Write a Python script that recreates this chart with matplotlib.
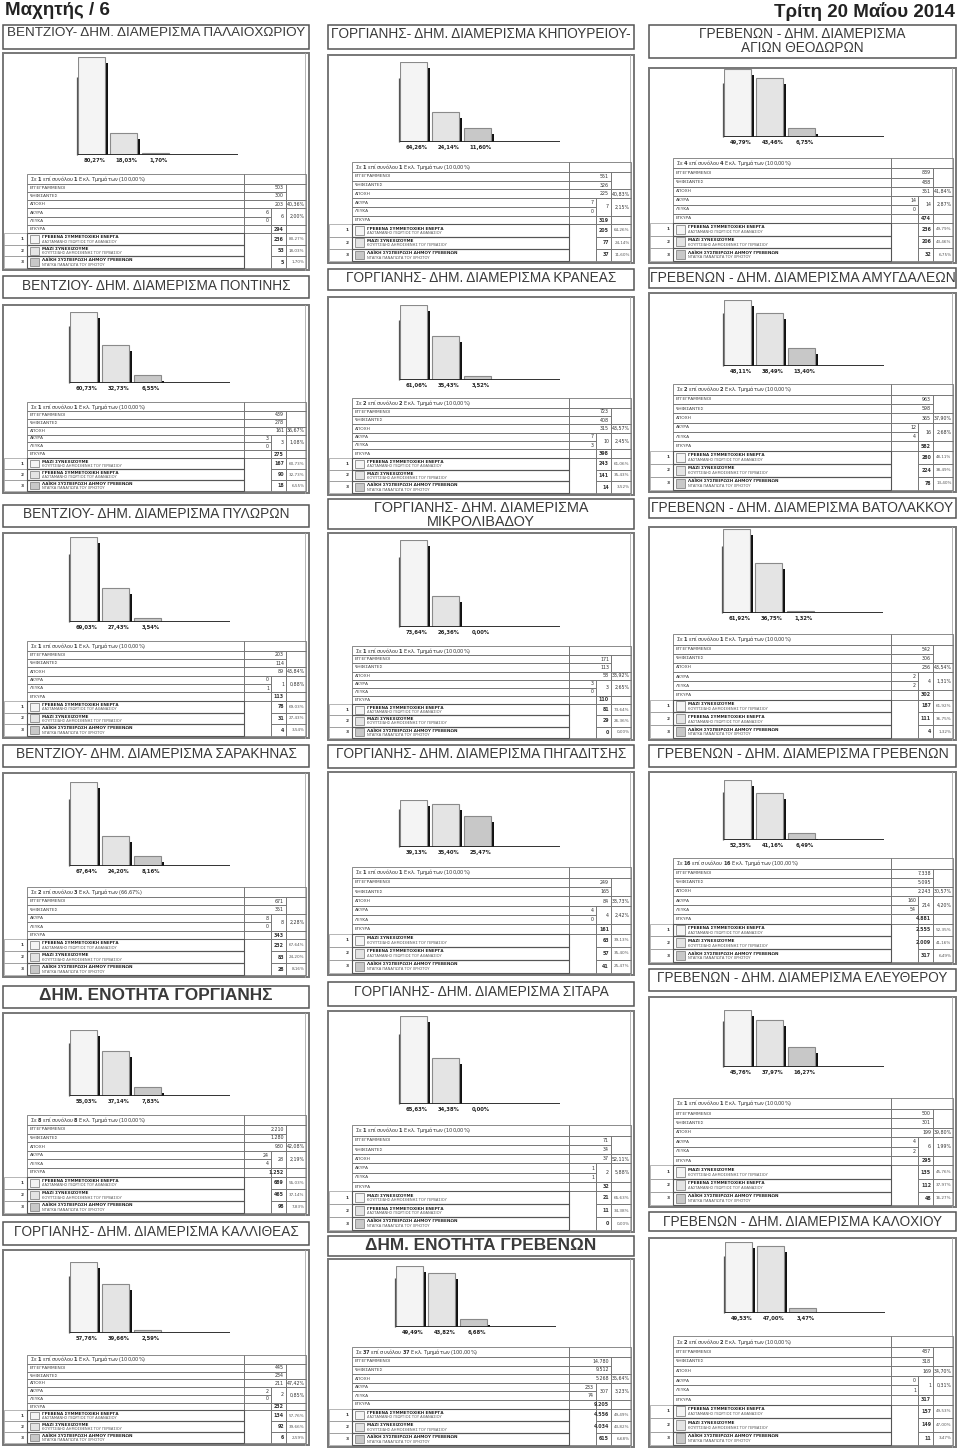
import numpy as np
import matplotlib.pyplot as plt
from matplotlib.patches import Rectangle
from matplotlib import font_manager

# --- data: local election results (Grevena, 18 May 2014), one entry per panel ---
titles = [
    "ΒΕΝΤΖΙΟΥ- ΔΗΜ. ΔΙΑΜΕΡΙΣΜΑ ΠΑΛΑΙΟΧΩΡΙΟΥ",
    "ΒΕΝΤΖΙΟΥ- ΔΗΜ. ΔΙΑΜΕΡΙΣΜΑ ΠΟΝΤΙΝΗΣ",
    "ΒΕΝΤΖΙΟΥ- ΔΗΜ. ΔΙΑΜΕΡΙΣΜΑ ΠΥΛΩΡΩΝ",
    "ΒΕΝΤΖΙΟΥ- ΔΗΜ. ΔΙΑΜΕΡΙΣΜΑ ΣΑΡΑΚΗΝΑΣ",
    "ΔΗΜ. ΕΝΟΤΗΤΑ ΓΟΡΓΙΑΝΗΣ",
    "ΓΟΡΓΙΑΝΗΣ- ΔΗΜ. ΔΙΑΜΕΡΙΣΜΑ ΚΑΛΛΙΘΕΑΣ",
    "ΓΟΡΓΙΑΝΗΣ- ΔΗΜ. ΔΙΑΜΕΡΙΣΜΑ ΚΗΠΟΥΡΕΙΟΥ-",
    "ΓΟΡΓΙΑΝΗΣ- ΔΗΜ. ΔΙΑΜΕΡΙΣΜΑ ΚΡΑΝΕΑΣ",
    "ΓΟΡΓΙΑΝΗΣ- ΔΗΜ. ΔΙΑΜΕΡΙΣΜΑ\nΜΙΚΡΟΛΙΒΑΔΟΥ",
    "ΓΟΡΓΙΑΝΗΣ- ΔΗΜ. ΔΙΑΜΕΡΙΣΜΑ ΠΗΓΑΔΙΤΣΗΣ",
    "ΓΟΡΓΙΑΝΗΣ- ΔΗΜ. ΔΙΑΜΕΡΙΣΜΑ ΣΙΤΑΡΑ",
    "ΔΗΜ. ΕΝΟΤΗΤΑ ΓΡΕΒΕΝΩΝ",
    "ΓΡΕΒΕΝΩΝ - ΔΗΜ. ΔΙΑΜΕΡΙΣΜΑ\nΑΓΙΩΝ ΘΕΟΔΩΡΩΝ",
    "ΓΡΕΒΕΝΩΝ - ΔΗΜ. ΔΙΑΜΕΡΙΣΜΑ ΑΜΥΓΔΑΛΕΩΝ",
    "ΓΡΕΒΕΝΩΝ - ΔΗΜ. ΔΙΑΜΕΡΙΣΜΑ ΒΑΤΟΛΑΚΚΟΥ",
    "ΓΡΕΒΕΝΩΝ - ΔΗΜ. ΔΙΑΜΕΡΙΣΜΑ ΓΡΕΒΕΝΩΝ",
    "ΓΡΕΒΕΝΩΝ - ΔΗΜ. ΔΙΑΜΕΡΙΣΜΑ ΕΛΕΥΘΕΡΟΥ",
    "ΓΡΕΒΕΝΩΝ - ΔΗΜ. ΔΙΑΜΕΡΙΣΜΑ ΚΑΛΟΧΙΟΥ",
]
tm_done = [1, 1, 1, 2, 8, 1, 1, 2, 1, 1, 1, 37, 4, 2, 1, 16, 1, 2]
tm_total = [1, 1, 1, 3, 8, 1, 1, 2, 1, 1, 1, 37, 4, 2, 1, 16, 1, 2]
tm_pct = [100.0, 100.0, 100.0, 66.67, 100.0, 100.0, 100.0, 100.0, 100.0,
          100.0, 100.0, 100.0, 100.0, 100.0, 100.0, 100.0, 100.0, 100.0]
eggegrammenoi = [503, 439, 203, 671, 2210, 445, 551, 723, 171, 249, 71, 14780,
                 839, 963, 542, 7338, 500, 487]
psifisantes = [300, 278, 114, 351, 1280, 234, 326, 408, 113, 165, 34, 9512,
               488, 598, 306, 5095, 301, 318]
apoxi = [203, 161, 89, None, 930, 211, 225, 315, 58, 84, 37, 5268,
         351, 365, 236, 2243, 199, 169]
apoxi_pct = [40.36, 36.67, 43.84, None, 42.08, 47.42, 40.83, 43.57, 33.92, 33.73, 52.11, 35.64,
             41.84, 37.90, 43.54, 30.57, 39.80, 34.70]
akyra = [6, 3, 0, 8, 24, 2, 7, 7, 3, 4, 1, 233, 14, 12, 2, 160, 4, 0]
leyka = [0, 0, 1, 0, 4, 0, 0, 3, 0, 0, 1, 74, 0, 4, 2, 54, 2, 1]
akyra_leyka_pct = [2.00, 1.08, 0.88, 2.28, 2.19, 0.85, 2.15, 2.45, 2.65, 2.42, 5.88, 3.23,
                   2.87, 2.68, 1.31, 4.20, 1.99, 0.31]
egkyra = [294, 275, 113, 343, 1252, 232, 319, 398, 110, 161, 32, 9205,
          474, 582, 302, 4881, 295, 317]

parties = {
    'G': ("ΓΡΕΒΕΝΑ ΣΥΜΜΕΤΟΧΙΚΗ ΕΝΕΡΓΑ", "ΔΑΣΤΑΜΑΝΗΣ ΓΕΩΡΓΙΟΣ ΤΟΥ ΑΘΑΝΑΣΙΟΥ"),
    'M': ("ΜΑΖΙ ΣΥΝΕΧΙΖΟΥΜΕ", "ΚΟΥΠΤΣΙΔΗΣ ΔΗΜΟΣΘΕΝΗΣ ΤΟΥ ΓΕΡΒΑΣΙΟΥ"),
    'L': ("ΛΑΪΚΗ ΣΥΣΠΕΙΡΩΣΗ ΔΗΜΟΥ ΓΡΕΒΕΝΩΝ", "ΝΤΑΓΚΑ ΠΑΝΑΓΙΩΤΑ ΤΟΥ ΧΡΗΣΤΟΥ"),
}
order = ['GML', 'MGL', 'GML', 'GML', 'GML', 'GML',
         'GML', 'GML', 'GML', 'MGL', 'MGL', 'GML',
         'GML', 'GML', 'MGL', 'GML', 'MGL', 'GML']
votes = [[236, 53, 5], [167, 90, 18], [78, 31, 4], [232, 83, 28], [689, 465, 98], [134, 92, 6],
         [205, 77, 37], [243, 141, 14], [81, 29, 0], [63, 57, 41], [21, 11, 0], [4556, 4034, 615],
         [236, 206, 32], [280, 224, 78], [187, 111, 4], [2555, 2009, 317], [135, 112, 48], [157, 149, 11]]
pcts = [[80.27, 18.03, 1.70], [60.73, 32.73, 6.55], [69.03, 27.43, 3.54], [67.64, 24.20, 8.16],
        [55.03, 37.14, 7.83], [57.76, 39.66, 2.59], [64.26, 24.14, 11.60], [61.06, 35.43, 3.52],
        [73.64, 26.36, 0.00], [39.13, 35.40, 25.47], [65.63, 34.38, 0.00], [49.49, 43.82, 6.68],
        [49.79, 43.46, 6.75], [48.11, 38.49, 13.40], [61.92, 36.75, 1.32], [52.35, 41.16, 6.49],
        [45.76, 37.97, 16.27], [49.53, 47.00, 3.47]]

# --- page layout (pixels) ---
W, H = 960, 1449
col_x = [(3, 309), (328, 634), (649, 956)]
title_y = [(25, 49), (276, 298), (505, 527), (745, 767), (986, 1008), (1222, 1245),
           (25, 49), (269, 290), (499, 529), (745, 768), (982, 1006), (1236, 1256),
           (25, 58), (268, 288), (498, 518), (745, 767), (969, 991), (1212, 1231)]
title_w = [297, 268, 266, 281, 232, 284, 300, 270, 215, 290, 255, 230, 205, 305, 303, 292, 290, 278]
box_y = [(53, 270), (305, 493), (533, 738), (773, 977), (1013, 1215), (1250, 1445),
         (55, 263), (297, 495), (533, 740), (772, 975), (1011, 1232), (1259, 1447),
         (68, 263), (293, 492), (527, 740), (772, 964), (997, 1207), (1238, 1447)]
base_y = [155, 383, 622, 866, 1096, 1333, 142, 380, 627, 847, 1104, 1327, 137, 366, 613, 840, 1067, 1313]
bartop_y = [57, 312, 537, 782, 1030, 1262, 62, 305, 540, 800, 1016, 1266, 69, 300, 529, 780, 1010, 1242]
table_y = [174, 402, 641, 887, 1115, 1355, 162, 398, 646, 867, 1125, 1347, 158, 384, 634, 858, 1098, 1336]
bar_x = [78, 70, 70, 70, 70, 70, 400, 400, 400, 400, 400, 396, 724, 724, 723, 724, 724, 725]
bar_colors = ['#f4f4f4', '#e4e4e4', '#c8c8c8']

names = {f.name for f in font_manager.fontManager.ttflist}
NARROW = 'Liberation Sans Narrow' if 'Liberation Sans Narrow' in names else 'Liberation Sans'
SANS = 'Liberation Sans'
TAB = 'DejaVu Sans'


def num(n):
    return f"{n:,}".replace(',', '.')


def pc(v):
    return f"{v:.2f}".replace('.', ',') + '%'


fig = plt.figure(figsize=(W / 100, H / 100), dpi=100)
page = fig.add_axes([0, 0, 1, 1])
page.set_xlim(0, W)
page.set_ylim(H, 0)
page.axis('off')
renderer = fig.canvas.get_renderer()


def rect(x, y, w, h, ec='#777', lw=0.6, fc=None, z=2):
    page.add_patch(Rectangle((x, y), w, h, fill=fc is not None, fc=fc or 'none',
                             ec=ec, lw=lw, zorder=z))


def txt(x, y, s, size=3.4, ha='left', va='center', weight='normal', color='#333'):
    page.text(x, y, s, fontsize=size, ha=ha, va=va, fontweight=weight,
              color=color, family=TAB, zorder=5)


def fit_text(xc, y, s, width, family, weight='normal'):
    t = page.text(xc, y, s, fontsize=10, ha='center', va='top', family=family,
                  fontweight=weight, color='#3a3a3a', linespacing=0.95,
                  multialignment='center', zorder=5)
    w = t.get_window_extent(renderer).width
    t.set_fontsize(10 * width / w)


def chart(i):
    base, top = base_y[i], bartop_y[i]
    vals = np.array(pcts[i])
    ax = fig.add_axes([bar_x[i] / W, 1 - base / H, 160 / W, (base - top) / H])
    ax.set_xlim(0, 160)
    ax.set_ylim(0, vals.max())
    ax.axis('off')
    xs = np.array([13.5, 45.5, 77.5])
    drop = 6 * vals.max() / (base - top)
    ax.bar(xs + 15, np.clip(vals - drop, 0, None), width=3, color='#111', zorder=1)
    ax.bar(xs, vals, width=27, color=bar_colors, edgecolor='#8a8a8a', lw=0.8, zorder=2)
    ax.vlines(-0.8, 0, vals[0] * 0.8, color='#555', lw=0.9, clip_on=False)
    ax.axhline(0, color='#222', lw=1.3, zorder=3)
    for x, v in zip(xs, vals):
        ax.annotate(pc(v), (x + 3, 0), xytext=(0, -2), textcoords='offset points',
                    ha='center', va='top', fontsize=3.8, fontweight='bold',
                    family=TAB, color='#222', annotation_clip=False)


def table(i, x0, x1, top, bot):
    xn = x0 + 24
    xr = x1 - 3
    xl = xr - 62
    xs = xl + 27
    xv = xs + 15
    stats = [("ΕΓΓΕΓΡΑΜΜΕΝΟΙ", 'e'), ("ΨΗΦΙΣΑΝΤΕΣ", 'p')]
    if apoxi[i] is not None:
        stats.append(("ΑΠΟΧΗ", 'a'))
    stats += [("ΑΚΥΡΑ", 'k'), ("ΛΕΥΚΑ", 'l'), ("ΕΓΚΥΡΑ", 'g')]
    unit = (bot - top) / (1.15 + len(stats) + 3 * 1.4)
    hh, hs, hp = 1.15 * unit, unit, 1.4 * unit

    # header row
    rect(xn, top, xl - xn, hh)
    rect(xl, top, xr - xl, hh)
    head = (r"Σε $\mathbf{%d}$ επί συνόλου $\mathbf{%d}$ Εκλ. Τμημάτων (%s)"
            % (tm_done[i], tm_total[i], pc(tm_pct[i])))
    txt(xn + 3, top + hh / 2, head, size=3.6)

    y = top + hh
    rows = {}
    for lab, key in stats:
        rows[key] = y
        rect(xn, y, xl - xn, hs)
        txt(xn + 3, y + hs / 2, lab, size=3.2, color='#444')
        y += hs
    # value cells
    for key, val in (('e', eggegrammenoi[i]), ('p', psifisantes[i])):
        rect(xl, rows[key], xv - xl, hs)
        txt(xv - 2, rows[key] + hs / 2, num(val), ha='right')
    rect(xv, rows['e'], xr - xv, 2 * hs)
    if 'a' in rows:
        rect(xl, rows['a'], xv - xl, hs)
        rect(xv, rows['a'], xr - xv, hs)
        txt(xv - 2, rows['a'] + hs / 2, num(apoxi[i]), ha='right')
        txt(xr - 1.5, rows['a'] + hs / 2, pc(apoxi_pct[i]), ha='right')
    for key, val in (('k', akyra[i]), ('l', leyka[i])):
        rect(xl, rows[key], xs - xl, hs)
        txt(xs - 2, rows[key] + hs / 2, num(val), ha='right')
    rect(xs, rows['k'], xv - xs, 2 * hs)
    rect(xv, rows['k'], xr - xv, 2 * hs)
    txt(xv - 2, rows['k'] + hs, num(akyra[i] + leyka[i]), ha='right')
    txt(xr - 1.5, rows['k'] + hs, pc(akyra_leyka_pct[i]), ha='right')
    rect(xl, rows['g'], xs - xl, hs)
    rect(xs, rows['g'], xv - xs, hs)
    rect(xv, rows['g'], xr - xv, hs)
    txt(xv - 2, rows['g'] + hs / 2, num(egkyra[i]), ha='right', weight='bold')

    # party rows
    yp = y
    rect(xl, yp, xs - xl, 3 * hp)
    for k, code in enumerate(order[i]):
        yy = yp + k * hp
        name, cand = parties[code]
        rect(x0 + 1, yy, xn - x0 - 1, hp, ec='#999', lw=0.5)
        txt(xn - 3, yy + hp / 2, str(k + 1), ha='right', weight='bold', size=3.2)
        rect(xn, yy, xl - xn, hp, ec='#555', lw=0.8)
        rect(xn + 2.5, yy + 1.8, 9, hp - 3.6, ec='#888', lw=0.6, fc=bar_colors[k], z=3)
        txt(xn + 15, yy + hp * 0.34, name, size=3.0, weight='bold', color='#222')
        txt(xn + 15, yy + hp * 0.72, cand, size=2.6, color='#555')
        rect(xs, yy, xv - xs, hp)
        rect(xv, yy, xr - xv, hp)
        txt(xv - 2, yy + hp / 2, num(votes[i][k]), ha='right', weight='bold')
        txt(xr - 1.5, yy + hp / 2, pc(pcts[i][k]), ha='right', size=3.0, color='#555')


# --- header ---
page.text(5, 2, "Μαχητής / 6", fontsize=13.5, fontweight='bold', family=NARROW,
          color='#222', va='top', ha='left')
page.text(955, 2, "Τρίτη 20 Μαΐου 2014", fontsize=13.5, fontweight='bold', family=NARROW,
          color='#222', va='top', ha='right')

for i in range(len(titles)):
    c = i // 6
    x0, x1 = col_x[c]
    ty0, ty1 = title_y[i]
    by0, by1 = box_y[i]
    rect(x0, ty0, x1 - x0, ty1 - ty0, ec='#555', lw=1.1)
    bold = titles[i].startswith("ΔΗΜ. ΕΝΟΤΗΤΑ")
    fam = NARROW if i in (0, 6, 12) else SANS
    fit_text((x0 + x1) / 2, ty0 + 2.5, titles[i], title_w[i], fam,
             weight='bold' if bold else 'normal')
    rect(x0, by0, x1 - x0, by1 - by0, ec='#777', lw=1.4)
    page.plot([x1 - 4, x1 - 4], [by0, by1], color='#aaa', lw=0.6)
    chart(i)
    table(i, x0, x1, table_y[i], by1 - 2)

fig.savefig('out.png', dpi=100, facecolor='white')
